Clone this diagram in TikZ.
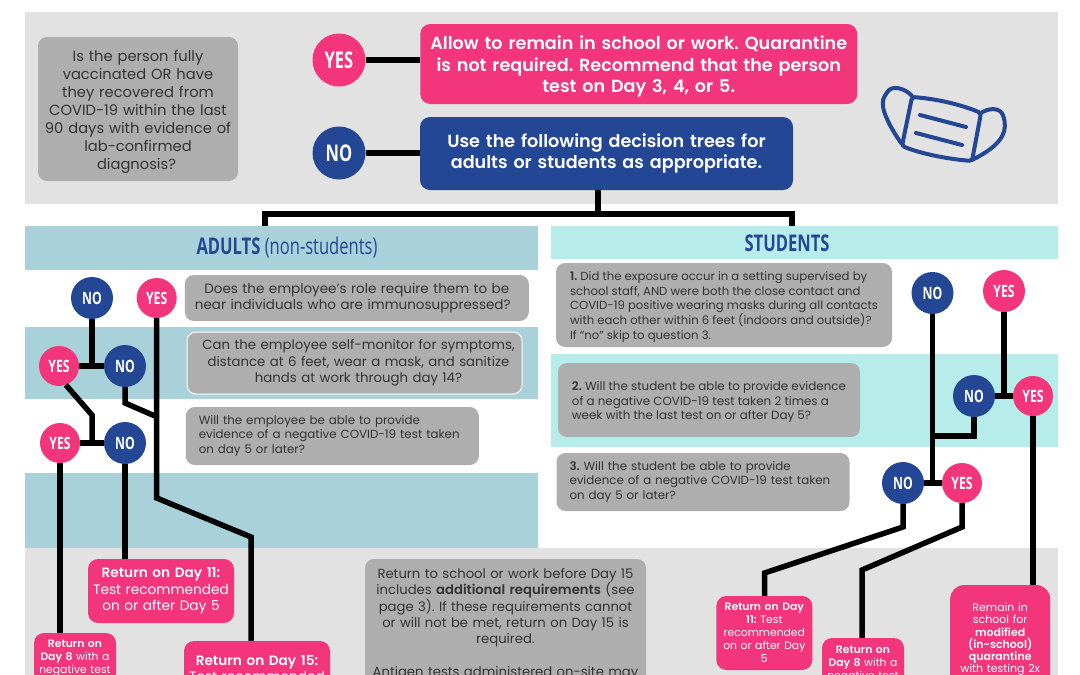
\documentclass[tikz,border=0pt]{standalone}
\usepackage{fontspec}
\setmainfont{Poppins}[BoldFont=Poppins SemiBold]
\newfontfamily\condfont[FakeStretch=.72]{Open Sans}
\usetikzlibrary{calc}
\frenchspacing
\definecolor{panelgray}{HTML}{E2E2E2}
\definecolor{boxgray}{HTML}{AEAEAE}
\definecolor{hotpink}{HTML}{F3357B}
\definecolor{navy}{HTML}{234795}
\definecolor{bandblue}{HTML}{A9D1DA}
\definecolor{bandmint}{HTML}{B6EDEB}
\definecolor{inkgray}{HTML}{333333}
\newcommand{\sz}[2]{\fontsize{#1}{#2}\selectfont}
\newcommand{\lowline}{\rule{0pt}{1.1em}}
\tikzset{
  band/.style={inner sep=0pt},
  askbox/.style={fill=boxgray,text=inkgray,rounded corners=9pt,inner ysep=0pt,align=center},
  askleft/.style={askbox,align=left,inner xsep=13pt,font=\sz{11.85}{14.8}},
  pinkbox/.style={fill=hotpink,text=white,rounded corners=10pt,inner xsep=2pt,inner ysep=0pt,align=center},
  yesdot/.style={circle,fill=hotpink,text=white,inner sep=0pt,font=\condfont\bfseries\sz{17}{17}},
  nodot/.style={circle,fill=navy,text=white,inner sep=0pt,font=\condfont\bfseries\sz{17}{17}},
  link/.style={line width=5.5pt,black},
  maskline/.style={line width=4pt,navy,line cap=round,rounded corners=3pt}
}
\begin{document}
\begin{tikzpicture}[x=1pt,y=-1pt]
\useasboundingbox (0,0) rectangle (1080,675);
\clip (0,0) rectangle (1080,675);
% backgrounds
\fill[white] (0,0) rectangle (1080,675);
\fill[panelgray] (25,12) rectangle (1058,204);
\fill[panelgray] (25,548) rectangle (1058,675);
\node[band,fill=bandblue,minimum width=513pt,minimum height=44pt] (adultsBand) at (281.5,248) {};
\node[band,fill=bandmint,minimum width=507pt,minimum height=33pt] (studentsBand) at (804.5,242.5) {};
\fill[bandblue] (25,327) rectangle (538,399);
\fill[bandblue] (25,473) rectangle (538,548);
\fill[bandmint] (551,354) rectangle (1058,447);
\node[text=navy,font=\condfont\sz{23}{23}] (adultsLabel) at (287,248) {\textbf{ADULTS} (non-students)};
\node[text=navy,font=\condfont\bfseries\sz{23}{23}] (studentsLabel) at (787,243) {STUDENTS};
% top panel
\node[askbox,text width=190pt,inner xsep=5pt,minimum height=144pt,font=\sz{14.7}{18}] (personBox) at (138,109)
  {\lowline Is the person fully\hspace*{3pt}\\vaccinated OR have\hspace*{3pt}\\they recovered from\hspace*{3pt}\\COVID-19 within the last\hspace*{3pt}\\90 days with evidence of\hspace*{3pt}\\lab-confirmed\hspace*{3pt}\\diagnosis?\hspace*{3pt}};
\node[yesdot,minimum size=53pt,font=\condfont\bfseries\sz{23}{23}] (yesTop) at (339,60) {YES};
\node[nodot,minimum size=53pt,font=\condfont\bfseries\sz{23}{23}] (noTop) at (339,153) {NO};
\node[pinkbox,text width=433pt,minimum height=80pt,font=\bfseries\sz{17.6}{21.5}] (allowBox) at (638.75,64)
  {\lowline Allow to remain in school or work. Quarantine\\is not required. Recommend that the person\\test on Day 3, 4, or 5.};
\node[pinkbox,fill=navy,text width=369pt,minimum height=73pt,font=\bfseries\sz{17.6}{21.5}] (useBox) at (606.5,153.5)
  {Use the following decision trees for\\adults or students as appropriate.};
% mask
\draw[maskline] (912,97) .. controls (938,99) and (962,105) .. (981,113) -- (972,161) .. controls (948,159) and (922,154) .. (902,146) -- cycle;
\draw[maskline] (912,96) .. controls (905,88) and (892,85) .. (886,94) .. controls (880,104) and (884,118) .. (901,143);
\draw[maskline] (981,113) .. controls (988,108) and (1000,107) .. (1004,118) .. controls (1007,135) and (998,147) .. (972,160);
\draw[maskline] (920,115) -- (966,127);
\draw[maskline] (916,133) -- (962,145);
% adults
\node[askbox,text width=340pt,inner xsep=2pt,minimum height=46pt,font=\sz{13.5}{16.3}] (roleBox) at (356.8,298)
  {Does the employee's role require them to be\hspace*{8pt}\\near individuals who are immunosuppressed?\hspace*{8pt}};
\node[askbox,draw=white,line width=1pt,text width=331pt,inner xsep=2pt,minimum height=62pt,font=\sz{13.3}{16.5}] (monitorBox) at (354.5,363)
  {\hspace*{8pt}Can the employee self-monitor for symptoms,\\\hspace*{8pt}distance at 6 feet, wear a mask, and sanitize\\\hspace*{8pt}hands at work through day 14?};
\node[askleft,text width=267pt,minimum height=58pt] (adultTestBox) at (332.3,436)
  {Will the employee be able to provide\\evidence of a negative COVID-19 test taken\\on day 5 or later?};
\node[nodot,minimum size=42pt] (noA) at (92,298) {NO};
\node[yesdot,minimum size=40pt] (yesA) at (156.7,298) {YES};
\node[yesdot,minimum size=40pt] (yesB) at (59,366) {YES};
\node[nodot,minimum size=42pt] (noB) at (125,366) {NO};
\node[yesdot,minimum size=40pt] (yesC) at (60,443) {YES};
\node[nodot,minimum size=42pt] (noC) at (125,443) {NO};
\node[pinkbox,text width=142pt,minimum height=64pt,font=\sz{13.7}{16.4}] (dayElevenA) at (161,591)
  {\textbf{Return on Day 11:}\\Test recommended\\on or after Day 5};
\node[pinkbox,text width=78pt,minimum height=50pt,font=\sz{10.8}{13}] (dayEightA) at (75,658)
  {\textbf{Return on}\\\textbf{Day 8} with a\\negative test};
\node[pinkbox,text width=142pt,minimum height=55pt,font=\sz{13.7}{16.4}] (dayFifteenA) at (257,668.5)
  {\textbf{Return on Day 15:}\\Test recommended};
\node[askbox,text width=277pt,inner xsep=2pt,minimum height=126pt,font=\sz{13.2}{16.4}] (returnBox) at (505.5,622)
  {\lowline Return to school or work before Day 15\\includes \textbf{additional requirements} (see\\page 3). If these requirements cannot\\or will not be met, return on Day 15 is\\required.\\[16.4pt]Antigen tests administered on-site may};
% students
\node[askbox,align=left,minimum width=336pt,inner xsep=0pt,minimum height=84pt,font=\sz{11.7}{14.8}] (superviseBox) at (724,305)
  {\lowline\textbf{1.} Did the exposure occur in a setting supervised by\\school staff, AND were both the close contact and\\COVID-19 positive wearing masks during all contacts\\with each other within 6 feet (indoors and outside)?\\If ``no'' skip to question 3.};
\node[askbox,align=left,minimum width=302pt,inner xsep=0pt,minimum height=74pt,font=\sz{11.9}{14.8}] (twiceBox) at (709,400)
  {\lowline\textbf{2.} Will the student be able to provide evidence\\of a negative COVID-19 test taken 2 times a\\week with the last test on or after Day 5?};
\node[askleft,text width=267pt,minimum height=58pt] (studentTestBox) at (703,482)
  {\textbf{3.} Will the student be able to provide\\evidence of a negative COVID-19 test taken\\on day 5 or later?};
\node[nodot,minimum size=42pt] (noS) at (932.5,293) {NO};
\node[yesdot,minimum size=42pt] (yesS) at (1004,291) {YES};
\node[nodot,minimum size=42pt] (noT) at (974,396) {NO};
\node[yesdot,minimum size=40pt] (yesT) at (1033,396) {YES};
\node[nodot,minimum size=42pt] (noU) at (903,483) {NO};
\node[yesdot,minimum size=40pt] (yesU) at (962,483) {YES};
\node[pinkbox,text width=92pt,minimum height=74pt,font=\sz{10.8}{13}] (dayElevenS) at (764.3,633)
  {\textbf{Return on Day}\\\textbf{11:} Test\\recommended\\on or after Day\\5};
\node[pinkbox,text width=78pt,minimum height=52pt,font=\sz{10.8}{13}] (dayEightS) at (863,664)
  {\textbf{Return on}\\\textbf{Day 8} with a\\negative test};
\node[pinkbox,rounded corners=14pt,text width=96pt,minimum height=109pt,font=\sz{11}{12.3}] (remainBox) at (1000.2,639.5)
  {Remain in\\school for\\\textbf{modified}\\\textbf{(in-school)}\\\textbf{quarantine}\\with testing 2x};
% connectors
\coordinate (treeL) at (265,214);
\coordinate (treeM) at (598,214);
\coordinate (treeR) at (792,214);
\coordinate (bendA) at (156.7,498);
\coordinate (bendB) at (251,537);
\coordinate (bendC) at (125,403);
\coordinate (bendD) at (155,416);
\coordinate (bendE) at (92,415);
\coordinate (bendF) at (974,436);
\coordinate (bendG) at (903,527);
\coordinate (bendH) at (764.5,573);
\coordinate (bendI) at (962,527);
\coordinate (bendJ) at (862,570);
\draw[link] (yesTop) -- (yesTop -| allowBox.west);
\draw[link] (noTop) -- (noTop -| useBox.west);
\draw[link] (useBox.south -| treeM) -- (treeM);
\draw[link] (adultsBand.north -| treeL) -- (treeL) -- (treeR) -- (studentsBand.north -| treeR);
\draw[link] (noA) -- (noA |- noB);
\draw[link] (yesB) -- (noB);
\draw[link] (yesA) -- (bendA) -- (bendB) -- (bendB |- dayFifteenA.north);
\draw[link] (noB) -- (bendC) -- (bendD);
\draw[link] (yesB.-70) -- (bendE) -- (bendE |- noC);
\draw[link] (yesC) -- (noC);
\draw[link] (yesC) -- (yesC |- dayEightA.north);
\draw[link] (noC) -- (noC |- dayElevenA.north);
\draw[link] (noS) -- (noS |- noU);
\draw[link] (noU) -- (yesU);
\draw[link] (yesS) -- (yesS |- noT);
\draw[link] (noT) -- (yesT);
\draw[link] (noT) -- (bendF) -- (bendF -| noS);
\draw[link] (noU) -- (bendG) -- (bendH) -- (bendH |- dayElevenS.north);
\draw[link] (yesU) -- (bendI) -- (bendJ) -- (bendJ |- dayEightS.north);
\draw[link] (yesT) -- (yesT |- remainBox.north);
\end{tikzpicture}
\end{document}
